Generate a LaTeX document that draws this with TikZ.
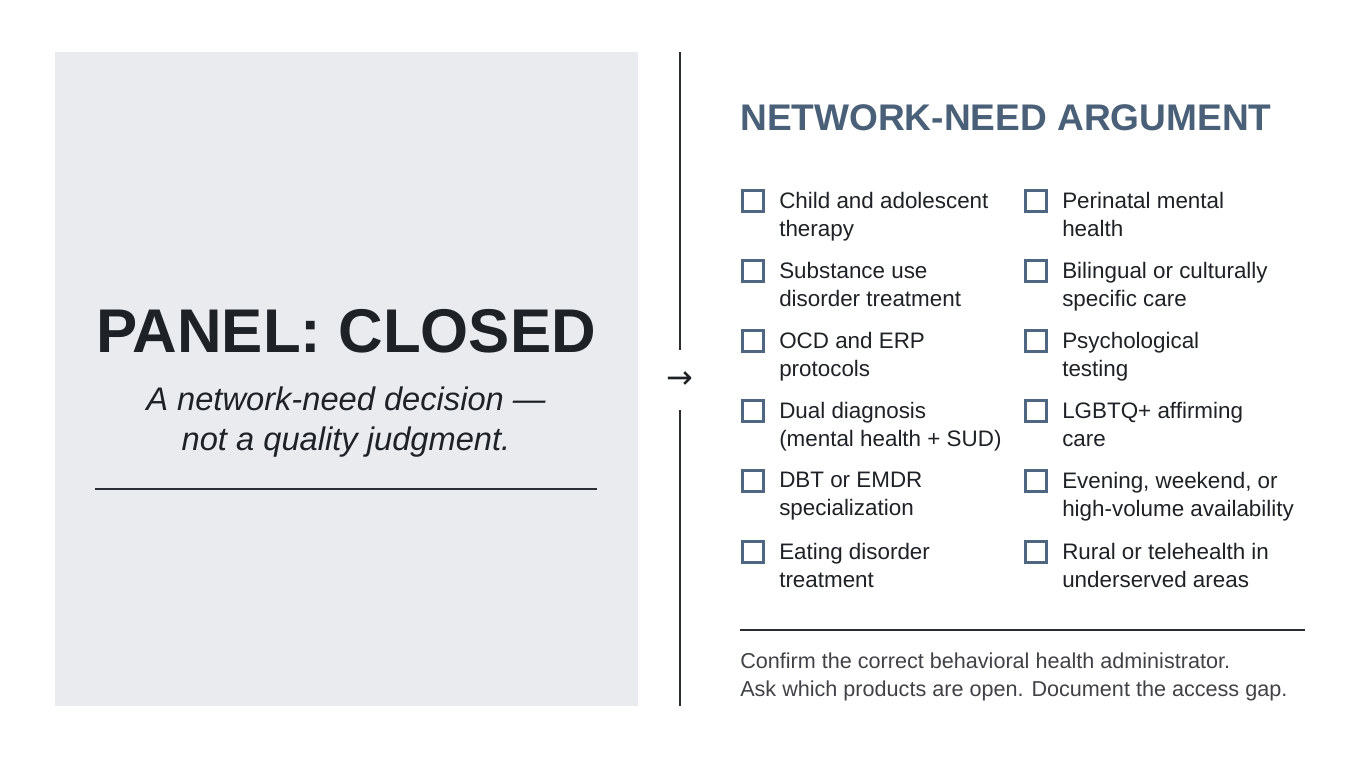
\documentclass[tikz,border=0pt]{standalone}
\usepackage{fontspec}
\setmainfont{Liberation Sans}
\newfontfamily\djv{DejaVu Sans}
\definecolor{panel}{HTML}{E9EBEF}
\definecolor{head}{HTML}{4A6078}
\definecolor{ink}{HTML}{1E2126}
\definecolor{boxc}{HTML}{4F6680}
\definecolor{rulec}{HTML}{2A2D33}
\begin{document}
\begin{tikzpicture}[x=0.75pt,y=-0.75pt,
  item/.style={anchor=north west,align=left,font=\fontsize{16.8}{20.8}\selectfont,text=ink,inner sep=0pt},
  cb/.style={draw=boxc,line width=1.8pt,minimum size=16pt,inner sep=0pt}]
\fill[white] (0,0) rectangle (1360,759);
\useasboundingbox (0,0) rectangle (1360,759);
\fill[panel] (55,52) rectangle (638,706);
\node[font=\bfseries\fontsize{46.3}{52}\selectfont,text=ink] (title) at (346,331) {PANEL: CLOSED};
\node[font=\itshape\fontsize{24.5}{30}\selectfont,text=ink,align=center] (sub) at (346,422) {A network-need decision —\\not a quality judgment.};
\coordinate (r1) at (95,489); \coordinate (r2) at (597,489);
\draw[rulec,line width=0.9pt] (r1) -- (r2);
\coordinate (v1) at (680,52); \coordinate (v2) at (680,350);
\coordinate (v3) at (680,410); \coordinate (v4) at (680,706);
\draw[rulec,line width=1pt] (v1) -- (v2) (v3) -- (v4);
\node[font=\djv\fontsize{24}{24}\selectfont,text=ink] (arr) at (680,380) {→};
\node[anchor=west,font=\bfseries\fontsize{27.8}{30}\selectfont,text=head,inner sep=0pt] (h) at (740,118) {NETWORK-NEED ARGUMENT};
\foreach \n/\x/\y/\t in {
 a/741/201/{Child and adolescent\\therapy},
 b/741/271/{Substance use\\disorder treatment},
 c/741/341/{OCD and ERP\\protocols},
 d/741/411/{Dual diagnosis\\(mental health + SUD)},
 e/741/481/{DBT or EMDR\\specialization},
 f/741/552/{Eating disorder\\treatment},
 g/1024/201/{Perinatal mental\\health},
 h2/1024/271/{Bilingual or culturally\\specific care},
 i/1024/341/{Psychological\\testing},
 j/1024/411/{LGBTQ+ affirming\\care},
 k/1024/481/{Evening, weekend, or\\high-volume availability},
 l/1024/552/{Rural or telehealth in\\underserved areas}}{
  \node[cb] (box\n) at (\x+12,\y) {};
  \node[item] (txt\n) at (\x+38,\y-9) {\t};
}
\coordinate (r3) at (740,630); \coordinate (r4) at (1305,630);
\draw[rulec,line width=0.9pt] (r3) -- (r4);
\node[anchor=north west,align=left,inner sep=0pt,font=\fontsize{16.2}{21}\selectfont,text=ink!85] (foot) at (740,653) {Confirm the correct behavioral health administrator.\\Ask which products are open. Document the access gap.};
\end{tikzpicture}
\end{document}
